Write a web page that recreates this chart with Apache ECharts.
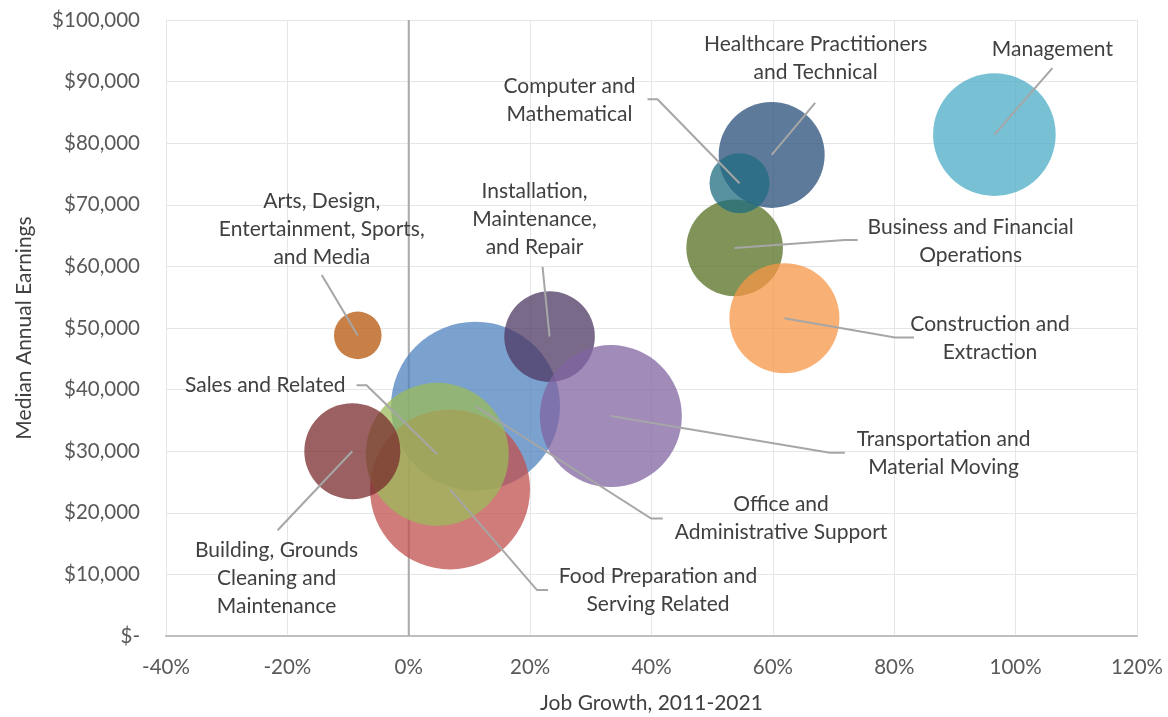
<!DOCTYPE html>
<html>
<head>
<meta charset="utf-8">
<script src="https://cdn.jsdelivr.net/npm/echarts@6/dist/echarts.min.js"></script>
<style>
  html, body { margin: 0; padding: 0; background: #fff; overflow: hidden; }
  #chart { width: 1168px; height: 717px; }
</style>
</head>
<body>
<div id="chart"></div>
<script>
// ---- data (draw order: back to front) ----
const occupations = [
  'Office and\nAdministrative Support',
  'Food Preparation and\nServing Related',
  'Sales and Related',
  'Building, Grounds\nCleaning and\nMaintenance',
  'Installation,\nMaintenance,\nand Repair',
  'Transportation and\nMaterial Moving',
  'Arts, Design,\nEntertainment, Sports,\nand Media',
  'Business and Financial\nOperations',
  'Construction and\nExtraction',
  'Healthcare Practitioners\nand Technical',
  'Computer and\nMathematical',
  'Management'
];
const jobGrowthPct = [11.0, 6.8, 4.7, -9.3, 23.2, 33.3, -8.4, 53.7, 61.9, 59.8, 54.5, 96.5];
const medianEarnings = [37300, 23800, 29500, 30000, 48600, 35700, 48800, 63000, 51600, 78100, 73500, 81400];
const bubbleSize = [7140, 6400, 5112, 2304, 2052, 5041, 566, 2333, 3025, 2809, 900, 3758];
const bubbleColors = ['#4F81BD', '#C0504D', '#9BBB59', '#782B2D', '#4D3863', '#8064A2',
                      '#B5560A', '#557023', '#F79646', '#274D79', '#206C80', '#4BACC6'];
const xTicks = { min: -40, max: 120, interval: 20 };
const yTicks = { min: 0, max: 100000, interval: 10000 };

// ---- label layout (pixel offsets from bubble centre; style, not data) ----
const labelLayout = [
  { text: [305.5, 112], align: 'center', line: [[175.7, 112.3], [187.3, 112.3]] },
  { text: [208, 101], align: 'center', line: [[87, 100.7], [98, 100.7]] },
  { text: [-91.7, -69], align: 'right', line: [[-70.7, -69], [-80.7, -69]] },
  { text: [-75.7, 127], align: 'center', line: [[-74.7, 79]] },
  { text: [-15, -117.7], align: 'center', line: [[-7, -69.7]] },
  { text: [332.7, 37], align: 'center', line: [[219, 36.7], [234, 36.7]] },
  { text: [-36, -106.5], align: 'center', line: [[-36, -60.5]] },
  { text: [236, -7], align: 'center', line: [[110, -8], [123, -8]] },
  { text: [205.6, 19.7], align: 'center', line: [[110.6, 19.4], [129.6, 19.4]] },
  { text: [44, -97], align: 'center', line: [[43.5, -52]] },
  { text: [-170, -83], align: 'center', line: [[-82, -84], [-92, -84]] },
  { text: [58, -85.5], align: 'center', line: [[58, -66.5]] }
];

const FONT = 'Lato, "Open Sans", sans-serif';
const points = occupations.map((n, i) => ({
  name: n,
  value: [jobGrowthPct[i], medianEarnings[i], bubbleSize[i]],
  itemStyle: { color: bubbleColors[i], opacity: 0.75 }
}));

const chart = echarts.init(document.getElementById('chart'), null, { renderer: 'canvas' });
chart.setOption({
  animation: false,
  backgroundColor: '#ffffff',
  grid: { left: 166, right: 31, top: 20, bottom: 81, containLabel: false, outerBoundsMode: 'none' },
  xAxis: {
    type: 'value', min: xTicks.min, max: xTicks.max, interval: xTicks.interval,
    name: 'Job Growth, 2011-2021', nameLocation: 'middle', nameGap: 57,
    nameTextStyle: { fontFamily: FONT, fontSize: 21, color: '#404040' },
    axisLine: { show: true, onZero: false, lineStyle: { color: '#BFBFBF', width: 2 } },
    axisTick: { show: false },
    axisLabel: { fontFamily: FONT, fontSize: 20.5, color: '#595959', margin: 21,
      formatter: v => v + '%' },
    splitLine: { show: true, lineStyle: { color: '#E6E6E6', width: 1 } }
  },
  yAxis: {
    type: 'value', min: yTicks.min, max: yTicks.max, interval: yTicks.interval,
    name: 'Median Annual Earnings', nameLocation: 'middle', nameGap: 131, nameRotate: 90,
    nameTextStyle: { fontFamily: FONT, fontSize: 21, color: '#404040' },
    axisLine: { show: false },
    axisTick: { show: false },
    axisLabel: { fontFamily: FONT, fontSize: 20.5, color: '#595959', margin: 26,
      formatter: v => v === 0 ? '$-' : '$' + v.toLocaleString('en-US') },
    splitLine: { show: true, lineStyle: { color: '#E6E6E6', width: 1 } }
  },
  series: [
    {
      // vertical axis crossing at 0%
      type: 'line', z: 1, silent: true, showSymbol: false,
      data: [[0, yTicks.min], [0, yTicks.max]],
      lineStyle: { color: '#ABABAB', width: 2 }
    },
    {
      type: 'scatter', z: 2, silent: true,
      data: points,
      symbolSize: v => 2 * Math.sqrt(v[2])
    },
    {
      type: 'custom', z: 3, silent: true,
      data: points.map(p => p.value),
      encode: { x: 0, y: 1 },
      renderItem: (params, api) => {
        const i = params.dataIndex;
        const c = api.coord([api.value(0), api.value(1)]);
        const lay = labelLayout[i];
        const pts = [c].concat(lay.line.map(p => [c[0] + p[0], c[1] + p[1]]));
        return {
          type: 'group',
          children: [
            { type: 'polyline', shape: { points: pts },
              style: { stroke: '#A6A6A6', lineWidth: 2, fill: null } },
            { type: 'text',
              style: { text: occupations[i], x: c[0] + lay.text[0], y: c[1] + lay.text[1],
                align: lay.align, verticalAlign: 'middle', textAlign: lay.align,
                fontFamily: FONT, fontSize: 21, lineHeight: 28, fill: '#404040' } }
          ]
        };
      }
    }
  ]
});
</script>
</body>
</html>
